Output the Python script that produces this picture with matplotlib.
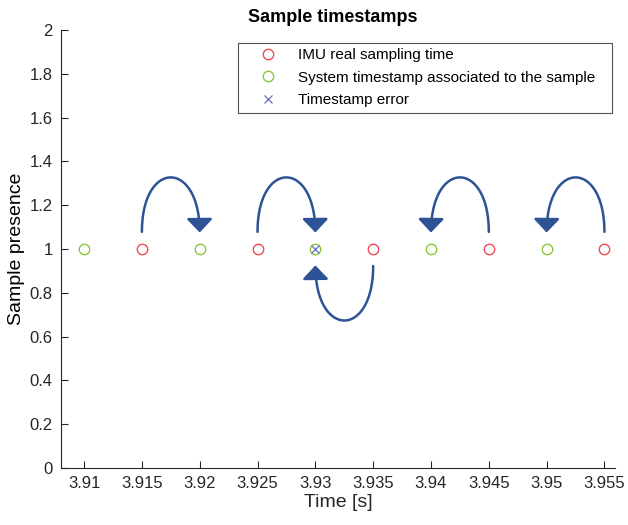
import numpy as np
import matplotlib
matplotlib.use('Agg')
import matplotlib.pyplot as plt
from matplotlib.patches import FancyArrowPatch
from matplotlib.path import Path

plt.rcParams['font.family'] = ['Liberation Sans', 'DejaVu Sans']

# data
imu_times = [3.915, 3.925, 3.935, 3.945, 3.955]
sys_times = [3.91, 3.92, 3.93, 3.94, 3.95]
err_times = [3.93]
presence = 1.0

# arrows: (from IMU sample, to system timestamp, above/below)
arrow_from = [3.915, 3.925, 3.935, 3.945, 3.955]
arrow_to = [3.92, 3.93, 3.93, 3.94, 3.95]
arrow_side = [1, 1, -1, 1, 1]

x_ticks = [3.91, 3.915, 3.92, 3.925, 3.93, 3.935, 3.94, 3.945, 3.95, 3.955]
x_tick_labels = ['3.91', '3.915', '3.92', '3.925', '3.93', '3.935', '3.94',
                 '3.945', '3.95', '3.955']
y_ticks = np.arange(0, 2.01, 0.2)

red = '#EE4B55'
green = '#8CC63F'
purple = '#6C6CC4'
arrow_col = '#2E5395'
dark = '#262626'


def bezier(p0, p1, p2, p3, n=80):
    t = np.linspace(0, 1, n)[:, None]
    pts = ((1 - t) ** 3 * p0 + 3 * (1 - t) ** 2 * t * p1
           + 3 * (1 - t) * t ** 2 * p2 + t ** 3 * p3)
    return pts


fig = plt.figure(figsize=(6.28, 5.25), dpi=100)
ax = fig.add_axes([0.0971, 0.1086, 0.8819, 0.8344])

ax.plot(imu_times, [presence] * len(imu_times), 'o', ls='none', mfc='none',
        mec=red, ms=7.5, mew=1.0, label='IMU real sampling time')
ax.plot(sys_times, [presence] * len(sys_times), 'o', ls='none', mfc='none',
        mec=green, ms=7.5, mew=1.0,
        label='System timestamp associated to the sample')
ax.plot(err_times, [presence] * len(err_times), 'x', ls='none',
        color=purple, ms=6, mew=0.9, label='Timestamp error')

for x0, x1, side in zip(arrow_from, arrow_to, arrow_side):
    y0 = presence + side * 0.078
    y_end = presence + side * 0.075
    h = presence + side * 0.41
    p0 = np.array([x0, y0])
    p1 = np.array([x0, h])
    p2 = np.array([x1, h])
    p3 = np.array([x1, y_end])
    pts = bezier(p0, p1, p2, p3)
    path = Path(pts)
    arr = FancyArrowPatch(path=path,
                          arrowstyle='-|>,head_length=0.42,head_width=0.4',
                          mutation_scale=20, color=arrow_col, lw=1.8,
                          transform=ax.transData, zorder=3)
    ax.add_patch(arr)

ax.set_xlim(3.908, 3.9559)
ax.set_ylim(0, 2)
ax.set_xticks(x_ticks)
ax.set_xticklabels(x_tick_labels)
ax.set_yticks(y_ticks)
ax.set_yticklabels(['0', '0.2', '0.4', '0.6', '0.8', '1', '1.2', '1.4',
                    '1.6', '1.8', '2'])

for s in ['top', 'right']:
    ax.spines[s].set_visible(False)
for s in ['left', 'bottom']:
    ax.spines[s].set_color(dark)
    ax.spines[s].set_linewidth(0.8)
ax.tick_params(direction='in', length=5, width=0.8, colors=dark,
               labelsize=12, pad=6)

ax.set_xlabel('Time [s]', fontsize=14, color=dark, labelpad=2)
ax.set_ylabel('Sample presence', fontsize=14, color='black', labelpad=3)
ax.set_title('Sample timestamps', fontsize=13, fontweight='bold', pad=6,
             x=0.49)

leg = ax.legend(loc='upper left', bbox_to_anchor=(0.3195, 0.0, 0.675, 0.970),
                mode='expand', fontsize=11, frameon=True, fancybox=False,
                edgecolor=dark, borderpad=0.35, handletextpad=0.35,
                labelspacing=0.55, handlelength=3.2, borderaxespad=0)
leg.get_frame().set_linewidth(0.8)

fig.savefig('out.png', dpi=100)
